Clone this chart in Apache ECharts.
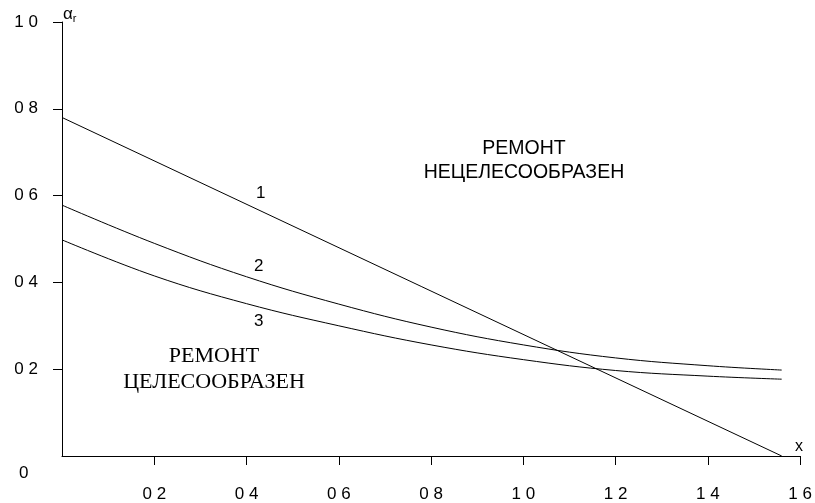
<!DOCTYPE html>
<html>
<head>
<meta charset="utf-8">
<script src="https://cdn.jsdelivr.net/npm/echarts@6/dist/echarts.min.js"></script>
<style>
  html, body { margin: 0; padding: 0; background: #fff; }
  #chart { width: 815px; height: 503px; }
</style>
</head>
<body>
<div id="chart"></div>
<script>
// данные
const xs = [0, 0.2, 0.4, 0.6, 0.8, 1.0, 1.2, 1.4, 1.56];
const line1X = [0, 1.56];
const line1Y = [0.78, 0];
const curve2Y = [0.578, 0.49, 0.413, 0.35, 0.297, 0.256, 0.226, 0.208, 0.198];
const curve3Y = [0.498, 0.415, 0.351, 0.3, 0.256, 0.222, 0.197, 0.184, 0.177];
const xTicks = [0, 0.2, 0.4, 0.6, 0.8, 1.0, 1.2, 1.4, 1.6];
const yTicks = [0, 0.2, 0.4, 0.6, 0.8, 1.0];

function pairs(x, y) {
  return x.map((v, i) => [v, y[i]]);
}
function tickText(v) {
  // на исходнике десятичная точка не видна
  return v.toFixed(1).replace(".", " ");
}

const chart = echarts.init(document.getElementById("chart"));
const lineStyle = { color: "#000", width: 1 };
const labelFont = { color: "#000", fontFamily: "Liberation Sans", fontSize: 17 };

chart.setOption({
  animation: false,
  grid: { left: 62, right: 13, top: 22, bottom: 47 },
  xAxis: {
    type: "value",
    min: xTicks[0],
    max: xTicks[xTicks.length - 1],
    interval: 0.2,
    axisLine: { lineStyle: lineStyle },
    axisTick: { length: 9, lineStyle: lineStyle },
    splitLine: { show: false },
    axisLabel: Object.assign({ margin: 30, showMinLabel: false, formatter: tickText }, labelFont),
  },
  yAxis: {
    type: "value",
    min: yTicks[0],
    max: yTicks[yTicks.length - 1],
    interval: 0.2,
    axisLine: { show: true, lineStyle: lineStyle },
    axisTick: { show: true, length: 9, lineStyle: lineStyle },
    splitLine: { show: false },
    axisLabel: Object.assign({ margin: 24, showMinLabel: false, formatter: tickText }, labelFont),
  },
  series: [
    {
      type: "line",
      data: pairs(line1X, line1Y),
      symbol: "none",
      lineStyle: lineStyle,
    },
    {
      type: "line",
      data: pairs(xs, curve2Y),
      smooth: 0.4,
      symbol: "none",
      lineStyle: lineStyle,
    },
    {
      type: "line",
      data: pairs(xs, curve3Y),
      smooth: 0.4,
      symbol: "none",
      lineStyle: lineStyle,
    },
  ],
  graphic: [
    // начало координат
    { type: "text", left: 19, top: 465, style: { text: "0", font: "17px Liberation Sans", fill: "#000" } },
    // обозначения осей
    {
      type: "text",
      left: 63,
      top: 6,
      style: {
        text: "{a|α}{r|r}",
        rich: {
          a: { font: "17px Liberation Sans", fill: "#000" },
          r: { font: "11px Liberation Sans", fill: "#000", padding: [9, 0, 0, 0] },
        },
      },
    },
    { type: "text", left: 795, top: 439, style: { text: "x", font: "16px Liberation Sans", fill: "#000" } },
    // номера кривых
    { type: "text", left: 256, top: 185, style: { text: "1", font: "17px Liberation Sans", fill: "#000" } },
    { type: "text", left: 254, top: 258, style: { text: "2", font: "17px Liberation Sans", fill: "#000" } },
    { type: "text", left: 254, top: 313, style: { text: "3", font: "17px Liberation Sans", fill: "#000" } },
    // области
    {
      type: "text",
      x: 524,
      y: 161,
      style: {
        text: "РЕМОНТ\nНЕЦЕЛЕСООБРАЗЕН",
        font: "19.5px Liberation Sans",
        fill: "#000",
        align: "center",
        verticalAlign: "middle",
        lineHeight: 24,
      },
    },
    {
      type: "text",
      x: 214,
      y: 369,
      style: {
        text: "РЕМОНТ\nЦЕЛЕСООБРАЗЕН",
        font: "22px Liberation Serif",
        fill: "#000",
        align: "center",
        verticalAlign: "middle",
        lineHeight: 26,
      },
    },
  ],
});
</script>
</body>
</html>
